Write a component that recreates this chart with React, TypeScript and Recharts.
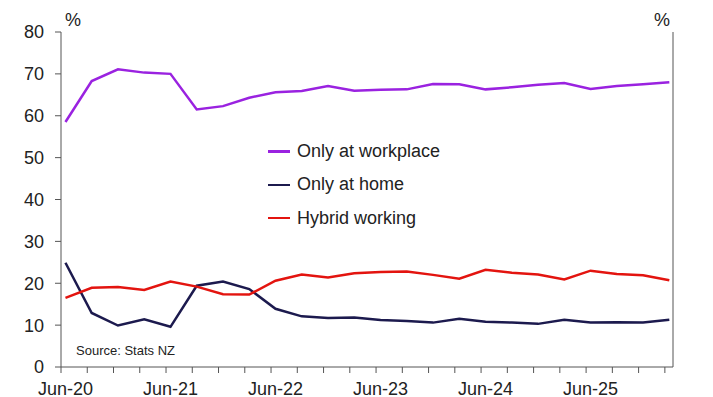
import { Legend, Line, LineChart, XAxis, YAxis } from "recharts";

// quarterly, Jun-20 .. Mar-26
const quarters = [
  "Jun-20", "Sep-20", "Dec-20", "Mar-21", "Jun-21", "Sep-21", "Dec-21", "Mar-22",
  "Jun-22", "Sep-22", "Dec-22", "Mar-23", "Jun-23", "Sep-23", "Dec-23", "Mar-24",
  "Jun-24", "Sep-24", "Dec-24", "Mar-25", "Jun-25", "Sep-25", "Dec-25", "Mar-26",
];

const workplace = [
  58.5, 68.3, 71.1, 70.3, 70.0, 61.5, 62.3, 64.3, 65.6, 65.9, 67.1, 66.0,
  66.2, 66.3, 67.6, 67.5, 66.3, 66.8, 67.4, 67.8, 66.4, 67.1, 67.5, 68.0,
];
const home = [
  24.9, 12.9, 9.9, 11.4, 9.6, 19.4, 20.4, 18.6, 13.9, 12.1, 11.7, 11.8,
  11.2, 11.0, 10.6, 11.5, 10.8, 10.6, 10.3, 11.3, 10.6, 10.7, 10.6, 11.3,
];
const hybrid = [
  16.5, 18.9, 19.1, 18.4, 20.4, 19.2, 17.4, 17.3, 20.6, 22.1, 21.4, 22.4,
  22.7, 22.8, 22.0, 21.1, 23.2, 22.5, 22.1, 20.9, 23.0, 22.2, 21.9, 20.7,
];

const yTicks = [0, 10, 20, 30, 40, 50, 60, 70, 80];

// tick marks sit slightly before each quarter's point
const TICK_SHIFT = 0.17;

const PURPLE = "#9a22e0";
const NAVY = "#1c1a4e";
const RED = "#e3140f";
const TEXT = "#222222";
const AXIS = "#555555";
const FONT = "'Liberation Sans', Arial, sans-serif";

const data = quarters.map((q, i) => ({
  idx: i,
  q,
  workplace: workplace[i],
  home: home[i],
  hybrid: hybrid[i],
}));

const tickPositions = quarters.map((_, i) => i - TICK_SHIFT);

const series = [
  { key: "workplace", name: "Only at workplace", color: PURPLE },
  { key: "home", name: "Only at home", color: NAVY },
  { key: "hybrid", name: "Hybrid working", color: RED },
];

function QuarterTick(props: any) {
  const { x, y, payload } = props;
  const i = Math.round(payload.value + TICK_SHIFT);
  if (i % 4 !== 0) return null;
  return (
    <text
      x={x}
      y={y}
      dx={4.5}
      dy="0.71em"
      textAnchor="middle"
      fill={TEXT}
      fontSize={18}
      fontFamily={FONT}
    >
      {quarters[i]}
    </text>
  );
}

function LegendBox() {
  return (
    <div style={{ fontFamily: FONT, fontSize: 18, color: TEXT }}>
      {series.map((s) => (
        <div
          key={s.key}
          style={{ display: "flex", alignItems: "center", height: 33.3 }}
        >
          <span
            style={{
              display: "inline-block",
              width: 22,
              height: 2.5,
              background: s.color,
              marginRight: 7,
            }}
          />
          {s.name}
        </div>
      ))}
    </div>
  );
}

export default function App() {
  return (
    <div style={{ position: "absolute", left: 0, top: 0, width: 713, height: 397 }}>
      <LineChart
        width={713}
        height={397}
        data={data}
        margin={{ top: 32, right: 0, left: 0, bottom: 0 }}
      >
        <XAxis
          dataKey="idx"
          type="number"
          domain={[-TICK_SHIFT, 23.14]}
          ticks={tickPositions}
          interval={0}
          height={30}
          tick={<QuarterTick />}
          tickLine={{ stroke: AXIS }}
          axisLine={{ stroke: AXIS }}
          tickSize={6}
          tickMargin={9}
        />
        <YAxis
          yAxisId="left"
          orientation="left"
          domain={[0, 80]}
          ticks={yTicks}
          width={61}
          tickSize={6}
          tickMargin={11}
          tick={{ fill: TEXT, fontSize: 18, fontFamily: FONT }}
          tickLine={{ stroke: AXIS }}
          axisLine={{ stroke: AXIS }}
        />
        <YAxis
          yAxisId="right"
          orientation="right"
          domain={[0, 80]}
          ticks={yTicks}
          width={40}
          tickSize={6}
          tickMargin={10}
          tick={{ fill: TEXT, fontSize: 18, fontFamily: FONT, textAnchor: "start" }}
          tickLine={{ stroke: AXIS }}
          axisLine={{ stroke: AXIS }}
        />
        <Legend
          layout="vertical"
          align="center"
          verticalAlign="middle"
          content={<LegendBox />}
          wrapperStyle={{ left: 268, top: 135, width: 220 }}
        />
        {series.map((s) => (
          <Line
            key={s.key}
            yAxisId="left"
            dataKey={s.key}
            name={s.name}
            stroke={s.color}
            strokeWidth={2.5}
            dot={false}
            type="linear"
            isAnimationActive={false}
          />
        ))}
      </LineChart>
      <div
        style={{
          position: "absolute",
          left: 65,
          top: 10,
          fontFamily: FONT,
          fontSize: 18,
          color: TEXT,
        }}
      >
        %
      </div>
      <div
        style={{
          position: "absolute",
          left: 654,
          top: 10,
          fontFamily: FONT,
          fontSize: 18,
          color: TEXT,
        }}
      >
        %
      </div>
      <div
        style={{
          position: "absolute",
          left: 76,
          top: 343,
          fontFamily: FONT,
          fontSize: 13,
          color: TEXT,
        }}
      >
        Source: Stats NZ
      </div>
    </div>
  );
}
